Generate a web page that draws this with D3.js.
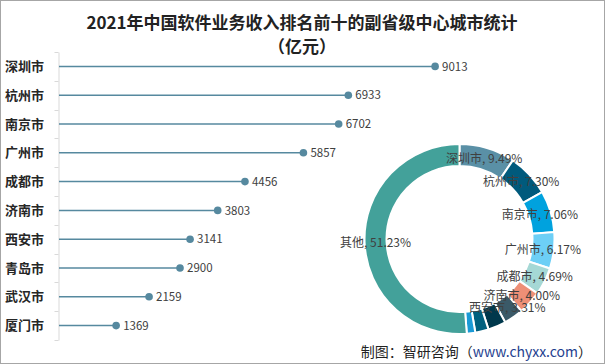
<!DOCTYPE html>
<html>
<head>
<meta charset="utf-8">
<script src="https://cdn.jsdelivr.net/npm/d3@7"></script>
<style>
  html, body { margin: 0; padding: 0; background: #fff; }
  svg { display: block; }
</style>
</head>
<body>
<svg id="chart" width="605" height="364"></svg>
<script>
// ---- data ----
const cities = ["深圳市", "杭州市", "南京市", "广州市", "成都市", "济南市", "西安市", "青岛市", "武汉市", "厦门市"];
const revenue = [9013, 6933, 6702, 5857, 4456, 3803, 3141, 2900, 2159, 1369];
const shareNames = ["深圳市", "杭州市", "南京市", "广州市", "成都市", "济南市", "西安市", "青岛市", "武汉市", "厦门市", "其他"];
const sharePct = [9.49, 7.30, 7.06, 6.17, 4.69, 4.00, 3.31, 3.05, 2.27, 1.44, 51.23];
const shareLabeled = [true, true, true, true, true, true, true, false, false, false, true];
const shareColors = ["#5a90a6", "#005a7c", "#00a2de", "#6dcff6", "#a5d8d5", "#ee8f76", "#3b5a68", "#00384c", "#00607f", "#1b9ad6", "#43a19a"];
const titleLines = ["2021年中国软件业务收入排名前十的副省级中心城市统计", "（亿元）"];

const svg = d3.select("#chart");
const W = 605, H = 364;

// frame
svg.append("rect").attr("x", 0.5).attr("y", 0.5).attr("width", W - 1).attr("height", H - 1)
  .attr("fill", "#fff").attr("stroke", "#a6a6a6");

// title
svg.append("g").selectAll("text").data(titleLines).join("text")
  .attr("x", 302).attr("y", (d, i) => 29 + i * 24)
  .attr("text-anchor", "middle")
  .attr("font-family", "'Noto Sans CJK SC', sans-serif")
  .attr("font-weight", "bold").attr("font-size", 17).attr("fill", "#222")
  .text(d => d);

// ---- lollipop ----
const y = d3.scaleBand().domain(cities).range([52, 340]);
const x = d3.scaleLinear().domain([0, 10000]).range([59, 476.3]);

const yAxis = svg.append("g").attr("transform", "translate(58.5,0)")
  .call(d3.axisLeft(y).tickSize(0).tickFormat(""));
yAxis.select(".domain").attr("stroke", "#d9d9d9");
// band-boundary tick marks
const bounds = cities.map(c => y(c)).concat([y.range()[1]]);
yAxis.selectAll("line.bt").data(bounds).join("line").attr("class", "bt")
  .attr("x1", -4).attr("x2", 0).attr("y1", d => Math.round(d) + 0.5).attr("y2", d => Math.round(d) + 0.5)
  .attr("stroke", "#d9d9d9");

svg.append("g").selectAll("text").data(cities).join("text")
  .attr("x", 5).attr("y", d => y(d) + y.bandwidth() / 2)
  .attr("dy", "0.36em")
  .attr("font-family", "'Noto Sans CJK SC', sans-serif")
  .attr("font-weight", "bold").attr("font-size", 13).attr("fill", "#262626")
  .text(d => d);

const lol = svg.append("g").selectAll("g").data(cities).join("g");
lol.append("line")
  .attr("x1", x(0)).attr("x2", (d, i) => x(revenue[i]))
  .attr("y1", d => y(d) + y.bandwidth() / 2).attr("y2", d => y(d) + y.bandwidth() / 2)
  .attr("stroke", "#56899f").attr("stroke-width", 1.5);
lol.append("circle")
  .attr("cx", (d, i) => x(revenue[i])).attr("cy", d => y(d) + y.bandwidth() / 2)
  .attr("r", 3.8).attr("fill", "#56899f");
lol.append("text")
  .attr("x", (d, i) => x(revenue[i]) + 7).attr("y", d => y(d) + y.bandwidth() / 2)
  .attr("dy", "0.36em")
  .attr("font-family", "'Noto Sans CJK SC', sans-serif")
  .attr("font-size", 11.5).attr("fill", "#404040")
  .text((d, i) => revenue[i]);

// ---- donut ----
const cx = 459.5, cy = 239, rOut = 95, rIn = 73;
const pie = d3.pie().sort(null).value(d => d.v);
const arcs = pie(shareNames.map((n, i) => ({ n, v: sharePct[i], i })));
const arc = d3.arc().innerRadius(rIn).outerRadius(rOut);
const labelArc = d3.arc().innerRadius(84).outerRadius(84);
const dg = svg.append("g").attr("transform", `translate(${cx},${cy})`);
dg.selectAll("path").data(arcs).join("path")
  .attr("d", arc)
  .attr("fill", d => shareColors[d.data.i])
  .attr("stroke", "#fff").attr("stroke-width", 2);
dg.selectAll("text").data(arcs.filter(d => shareLabeled[d.data.i])).join("text")
  .attr("transform", d => `translate(${labelArc.centroid(d)})`)
  .attr("text-anchor", "middle").attr("dy", "0.36em")
  .attr("font-family", "'Noto Sans CJK SC', sans-serif")
  .attr("font-size", 12).attr("fill", "#404040")
  .text(d => `${d.data.n}, ${d.data.v.toFixed(2)}%`);

// footer
const foot = svg.append("text").attr("x", 592).attr("y", 357).attr("text-anchor", "end")
  .attr("font-family", "'Noto Sans CJK SC', sans-serif").attr("font-size", 14).attr("fill", "#222");
foot.append("tspan").text("制图：智研咨询（");
foot.append("tspan").attr("fill", "#1f3f8f").text("www.chyxx.com");
foot.append("tspan").text("）");
</script>
</body>
</html>
